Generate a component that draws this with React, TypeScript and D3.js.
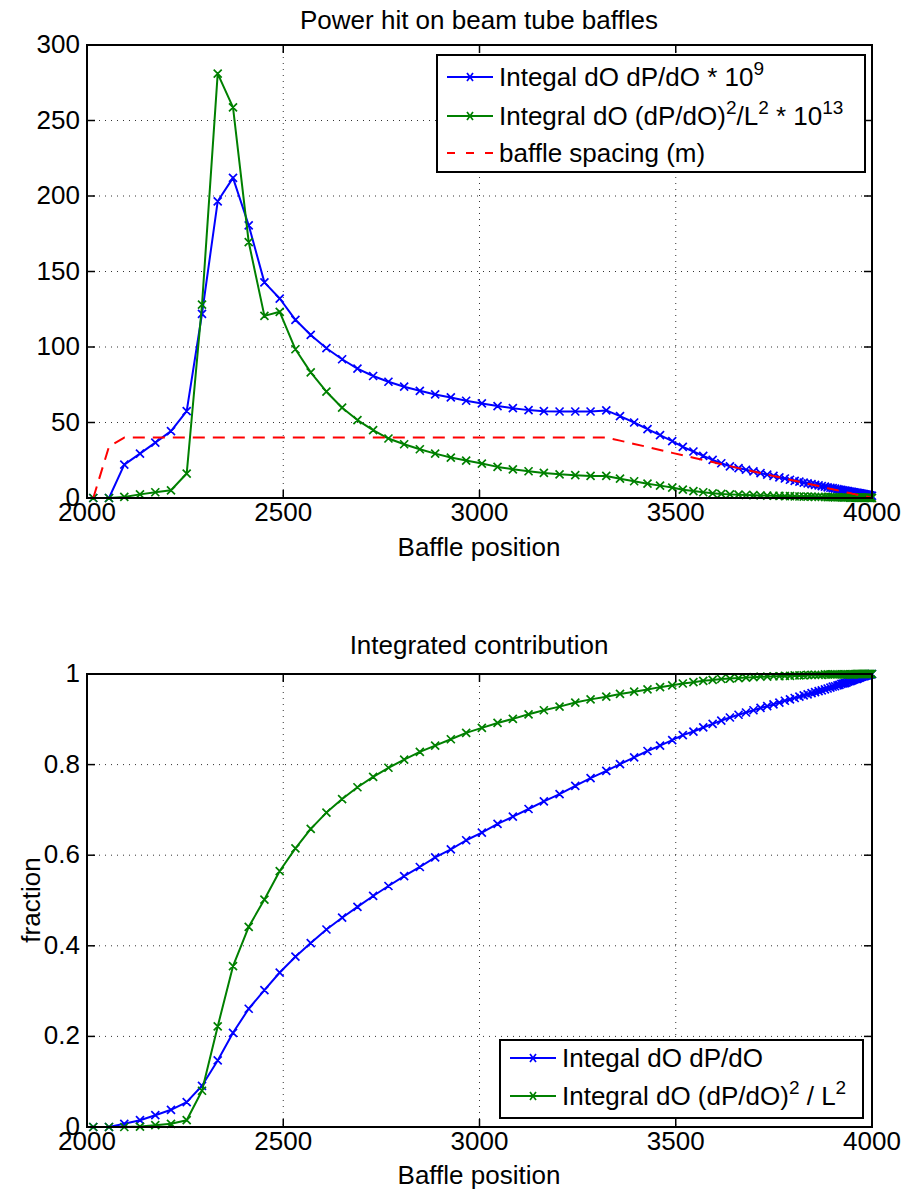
import React from 'react';
import * as d3 from 'd3';

// Baffle positions (m)
const positions = [
  2016, 2056, 2095, 2135, 2174, 2214, 2254, 2293, 2333, 2372, 2412, 2452, 2491, 2531, 2570, 2610, 2650,
  2689, 2729, 2768, 2808, 2848, 2887, 2927, 2966, 3006, 3046, 3085, 3125, 3164, 3204, 3244, 3283, 3323,
  3358, 3394, 3428, 3460, 3491, 3518, 3545, 3570, 3594, 3616, 3638, 3660, 3679, 3698, 3716, 3733, 3749,
  3764, 3778, 3791, 3803, 3815, 3826, 3836, 3846, 3855, 3864, 3872, 3880, 3887, 3894, 3900, 3906, 3912,
  3917, 3922, 3927, 3931, 3935, 3939, 3943, 3946, 3949, 3952, 3955, 3958, 3961, 3963, 3965, 3967, 3969,
  3971, 3973, 3975, 3977, 3979, 3981, 3983, 3985, 3987, 3989, 3991, 3993, 3995, 3997, 4000,
];

// Integal dO dP/dO * 10^9
const powerBlue = [
  0, 0, 22.1, 29.4, 36.7, 44.3, 57.5, 122, 196.5, 212, 180.6, 142.8, 132.1, 118, 108, 99.2, 91.9,
  85.7, 80.8, 77, 73.7, 71, 68.6, 66.6, 64.4, 62.6, 60.9, 59.5, 58.2, 57.5, 57.3, 57.3, 57.3, 58,
  54.2, 50, 45.6, 41.6, 37.6, 33.9, 30.8, 27.9, 25.2, 23, 21, 19.8, 18.7, 17.6, 16.5, 15.5, 14.6,
  13.7, 12.9, 12.1, 11.4, 10.8, 10.2, 9.7, 9.2, 8.7, 8.3, 7.9, 7.5, 7.1, 6.8, 6.5, 6.2, 5.9,
  5.6, 5.4, 5.1, 4.9, 4.7, 4.5, 4.3, 4.1, 4.0, 3.8, 3.7, 3.5, 3.4, 3.3, 3.2, 3.1, 3.0,
  2.9, 2.8, 2.7, 2.6, 2.5, 2.4, 2.3, 2.2, 2.1, 2.0, 1.9, 1.8, 1.7, 1.6, 1.5,
];

// Integral dO (dP/dO)^2/L^2 * 10^13
const powerGreen = [
  0, 0, 0.7, 2.4, 3.8, 5.1, 16.2, 128, 281, 258.7, 169.5, 120.6, 123.3, 98.5, 83.2, 70.4, 59.8,
  51.6, 44.9, 39.4, 35.6, 32.3, 29.4, 26.8, 24.8, 22.8, 20.6, 19, 17.7, 16.6, 15.7, 15.1, 14.6, 14.6,
  12.8, 11.1, 9.5, 8.2, 6.9, 5.5, 4.6, 3.8, 3.1, 2.7, 2.4, 2.2, 2.0, 1.85, 1.7, 1.6, 1.5,
  1.4, 1.3, 1.2, 1.1, 1.0, 0.95, 0.9, 0.85, 0.8, 0.75, 0.7, 0.65, 0.6, 0.56, 0.52, 0.48, 0.45,
  0.42, 0.4, 0.38, 0.36, 0.34, 0.32, 0.3, 0.29, 0.28, 0.27, 0.26, 0.25, 0.24, 0.23, 0.22, 0.21, 0.2,
  0.2, 0.19, 0.19, 0.18, 0.18, 0.17, 0.17, 0.16, 0.16, 0.15, 0.15, 0.15, 0.14, 0.14, 0.14,
];

// baffle spacing (m)
const baffleSpacing = [
  0, 34, 40, 40, 40, 40, 40, 40, 40, 40, 40, 40, 40, 40, 40, 40, 40,
  40, 40, 40, 40, 40, 40, 40, 40, 40, 40, 40, 40, 40, 40, 40, 40, 40,
  38.0, 35.8, 33.8, 31.8, 29.9, 28.3, 26.7, 25.2, 23.8, 22.4, 21.1, 19.8, 18.7, 17.6, 16.5, 15.5, 14.6,
  13.7, 12.9, 12.1, 11.4, 10.7, 10.1, 9.5, 8.9, 8.4, 7.9, 7.4, 6.9, 6.5, 6.1, 5.8, 5.4, 5.1,
  4.8, 4.5, 4.2, 4.0, 3.7, 3.5, 3.3, 3.1, 2.9, 2.7, 2.6, 2.4, 2.2, 2.1, 2.0, 1.9, 1.8,
  1.7, 1.6, 1.5, 1.4, 1.3, 1.2, 1.1, 1.0, 0.9, 0.8, 0.6, 0.5, 0.4, 0.3, 0.2,
];

// Integrated contribution: Integal dO dP/dO
const fracBlue = [
  0, 0, 0.007, 0.015, 0.026, 0.038, 0.055, 0.091, 0.147, 0.208, 0.261, 0.302, 0.341, 0.376, 0.406, 0.436, 0.462,
  0.486, 0.51, 0.532, 0.554, 0.574, 0.595, 0.613, 0.633, 0.65, 0.669, 0.685, 0.702, 0.719, 0.735, 0.753, 0.77, 0.786,
  0.801, 0.816, 0.83, 0.842, 0.854, 0.865, 0.873, 0.882, 0.89, 0.897, 0.904, 0.91, 0.915, 0.92, 0.925, 0.929, 0.933,
  0.937, 0.941, 0.944, 0.947, 0.95, 0.953, 0.955, 0.958, 0.96, 0.962, 0.964, 0.966, 0.968, 0.97, 0.972, 0.973, 0.975,
  0.976, 0.978, 0.979, 0.98, 0.981, 0.983, 0.984, 0.985, 0.986, 0.987, 0.988, 0.989, 0.989, 0.99, 0.991, 0.992, 0.992,
  0.993, 0.994, 0.994, 0.995, 0.995, 0.996, 0.996, 0.997, 0.997, 0.998, 0.998, 0.999, 0.999, 0.999, 1.0,
];

// Integrated contribution: Integral dO (dP/dO)^2 / L^2
const fracGreen = [
  0, 0, 0, 0.001, 0.004, 0.007, 0.015, 0.08, 0.222, 0.355, 0.442, 0.502, 0.565, 0.615, 0.658, 0.694, 0.724,
  0.75, 0.773, 0.793, 0.811, 0.828, 0.842, 0.856, 0.87, 0.881, 0.892, 0.901, 0.911, 0.92, 0.928, 0.937, 0.944, 0.95,
  0.956, 0.961, 0.966, 0.971, 0.975, 0.979, 0.982, 0.985, 0.987, 0.989, 0.99, 0.991, 0.992, 0.993, 0.994, 0.994, 0.995,
  0.995, 0.996, 0.996, 0.997, 0.997, 0.997, 0.998, 0.998, 0.998, 0.998, 0.998, 0.999, 0.999, 0.999, 0.999, 0.999, 0.999,
  0.999, 0.999, 0.999, 0.999, 0.999, 0.999, 0.999, 0.999, 0.999, 0.999, 0.999, 1, 1, 1, 1, 1, 1,
  1, 1, 1, 1, 1, 1, 1, 1, 1, 1, 1, 1, 1, 1, 1,
];

const xTicks = [2000, 2500, 3000, 3500, 4000];
const yTicksTop = [0, 50, 100, 150, 200, 250, 300];
const yTicksBottom = [0, 0.2, 0.4, 0.6, 0.8, 1];

const FONT = '"Liberation Sans", Arial, Helvetica, sans-serif';
const FS = 26;
const SUP = 19;
const BLUE = '#0000ff';
const GREEN = '#008000';
const RED = '#ff0000';

const W = 903;
const H = 1190;
const LEFT = 87;
const RIGHT = 872;

type PanelProps = {
  top: number;
  bottom: number;
  yDomain: [number, number];
  yTicks: number[];
  fmt: (v: number) => string;
  children: (x: d3.ScaleLinear<number, number>, y: d3.ScaleLinear<number, number>) => React.ReactNode;
};

function Panel({ top, bottom, yDomain, yTicks, fmt, children }: PanelProps) {
  const x = d3.scaleLinear().domain([2000, 4000]).range([LEFT, RIGHT]);
  const y = d3.scaleLinear().domain(yDomain).range([bottom, top]);
  const tl = 8;
  return (
    <g>
      {xTicks.slice(1, -1).map((t) => (
        <line key={'gx' + t} x1={x(t)} x2={x(t)} y1={top} y2={bottom} stroke="#333" strokeWidth={1} strokeDasharray="1,5" />
      ))}
      {yTicks.slice(1, -1).map((t) => (
        <line key={'gy' + t} x1={LEFT} x2={RIGHT} y1={y(t)} y2={y(t)} stroke="#333" strokeWidth={1} strokeDasharray="1,5" />
      ))}
      {children(x, y)}
      {xTicks.map((t) => (
        <g key={'tx' + t}>
          <line x1={x(t)} x2={x(t)} y1={bottom} y2={bottom - tl} stroke="#000" strokeWidth={1.5} />
          <line x1={x(t)} x2={x(t)} y1={top} y2={top + tl} stroke="#000" strokeWidth={1.5} />
          <text x={x(t)} y={bottom + 23} textAnchor="middle" fontSize={FS} fontFamily={FONT}>{t}</text>
        </g>
      ))}
      {yTicks.map((t) => (
        <g key={'ty' + t}>
          <line x1={LEFT} x2={LEFT + tl} y1={y(t)} y2={y(t)} stroke="#000" strokeWidth={1.5} />
          <line x1={RIGHT} x2={RIGHT - tl} y1={y(t)} y2={y(t)} stroke="#000" strokeWidth={1.5} />
          <text x={LEFT - 7} y={y(t) + 8} textAnchor="end" fontSize={FS} fontFamily={FONT}>{fmt(t)}</text>
        </g>
      ))}
      <rect x={LEFT} y={top} width={RIGHT - LEFT} height={bottom - top} fill="none" stroke="#000" strokeWidth={2} />
    </g>
  );
}

function Series({ xs, ys, x, y, color, marker = true, dash }: any) {
  const pts: [number, number][] = xs.map((v: number, i: number) => [x(v), y(ys[i])]);
  const line = d3.line()(pts) || '';
  const mk = marker
    ? pts.map(([px, py]) => `M${px - 4},${py - 4}L${px + 4},${py + 4}M${px - 4},${py + 4}L${px + 4},${py - 4}`).join('')
    : '';
  return (
    <g>
      <path d={line} fill="none" stroke={color} strokeWidth={2} strokeDasharray={dash} strokeLinejoin="round" />
      {marker && <path d={mk} fill="none" stroke={color} strokeWidth={1.7} />}
    </g>
  );
}

function LegendEntry({ x, y, color, dash, marker = true, children }: any) {
  return (
    <g>
      <line x1={x} x2={x + 46} y1={y} y2={y} stroke={color} strokeWidth={2} strokeDasharray={dash} />
      {marker && (
        <path d={`M${x + 20},${y - 4}L${x + 26},${y + 4}M${x + 20},${y + 4}L${x + 26},${y - 4}`} stroke={color} strokeWidth={1.7} />
      )}
      <text x={x + 52} y={y + 9} fontSize={FS} fontFamily={FONT}>{children}</text>
    </g>
  );
}

export default function App() {
  return (
    <svg width={W} height={H} style={{ position: 'absolute', left: 0, top: 0, background: '#fff' }}>
      <rect width={W} height={H} fill="#fff" />
      {/* Top chart */}
      <text x={479} y={29} textAnchor="middle" fontSize={FS} fontFamily={FONT}>Power hit on beam tube baffles</text>
      <Panel top={45} bottom={498} yDomain={[0, 300]} yTicks={yTicksTop} fmt={(v) => String(v)}>
        {(x, y) => (
          <g>
            <Series xs={positions} ys={powerBlue} x={x} y={y} color={BLUE} />
            <Series xs={positions} ys={powerGreen} x={x} y={y} color={GREEN} />
            <Series xs={positions} ys={baffleSpacing} x={x} y={y} color={RED} marker={false} dash="12,8" />
          </g>
        )}
      </Panel>
      <text x={479} y={556} textAnchor="middle" fontSize={FS} fontFamily={FONT}>Baffle position</text>
      <g>
        <rect x={437} y={55} width={428} height={117} fill="#fff" stroke="#000" strokeWidth={2} />
        <LegendEntry x={447} y={77} color={BLUE}>
          Integal dO dP/dO * 10<tspan dy={-11} fontSize={SUP}>9</tspan>
        </LegendEntry>
        <LegendEntry x={447} y={116} color={GREEN}>
          Integral dO (dP/dO)<tspan dy={-11} fontSize={SUP}>2</tspan>
          <tspan dy={11}>/L</tspan>
          <tspan dy={-11} fontSize={SUP}>2</tspan>
          <tspan dy={11}> * 10</tspan>
          <tspan dy={-11} fontSize={SUP}>13</tspan>
        </LegendEntry>
        <LegendEntry x={447} y={153} color={RED} marker={false} dash="8,11">
          baffle spacing (m)
        </LegendEntry>
      </g>

      {/* Bottom chart */}
      <text x={479} y={654} textAnchor="middle" fontSize={FS} fontFamily={FONT}>Integrated contribution</text>
      <Panel top={674} bottom={1127} yDomain={[0, 1]} yTicks={yTicksBottom} fmt={(v) => String(+v.toFixed(1))}>
        {(x, y) => (
          <g>
            <Series xs={positions} ys={fracBlue} x={x} y={y} color={BLUE} />
            <Series xs={positions} ys={fracGreen} x={x} y={y} color={GREEN} />
          </g>
        )}
      </Panel>
      <text x={479} y={1184} textAnchor="middle" fontSize={FS} fontFamily={FONT}>Baffle position</text>
      <text transform="translate(40,900) rotate(-90)" textAnchor="middle" fontSize={FS} fontFamily={FONT}>fraction</text>
      <g>
        <rect x={500} y={1040} width={363} height={78} fill="#fff" stroke="#000" strokeWidth={2} />
        <LegendEntry x={510} y={1058} color={BLUE}>
          Integal dO dP/dO
        </LegendEntry>
        <LegendEntry x={510} y={1096} color={GREEN}>
          Integral dO (dP/dO)<tspan dy={-11} fontSize={SUP}>2</tspan>
          <tspan dy={11}> / L</tspan>
          <tspan dy={-11} fontSize={SUP}>2</tspan>
        </LegendEntry>
      </g>
    </svg>
  );
}
